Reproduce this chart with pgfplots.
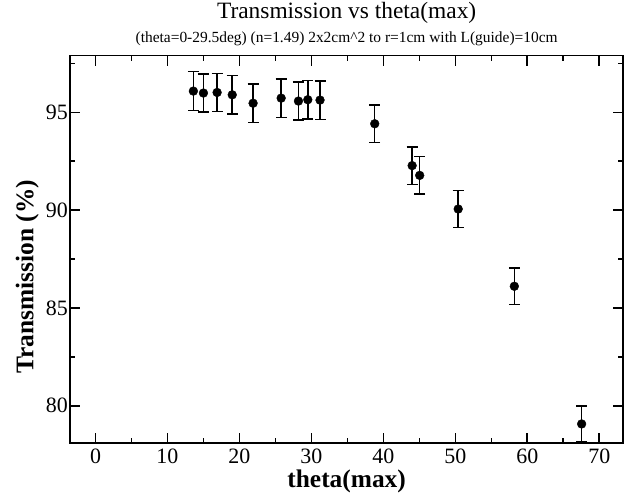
\documentclass[border=0pt]{standalone}
\usepackage{fontspec}
\setmainfont{Liberation Serif}
\usepackage{pgfplots}
\pgfplotsset{compat=1.18}
\begin{document}
\begin{tikzpicture}
\useasboundingbox (0,0) rectangle (627bp,493bp);
\begin{axis}[
  at={(70.3bp,49.7bp)}, anchor=south west,
  scale only axis, width=552.7bp, height=387.6bp,
  xmin=-3.5, xmax=73.3, ymin=78.08, ymax=97.9,
  xtick={0,10,...,70}, minor xtick={5,15,...,65},
  ytick={80,85,90,95}, minor ytick={80,82.5,...,97.5},
  tick align=inside, major tick length=10bp, minor tick length=5bp,
  axis line style={line width=1.6bp},
  every tick/.style={line width=1.6bp, black},
  ticklabel style={font=\fontsize{22}{22}\selectfont},
  /pgf/number format/assume math mode=true,
  xticklabel style={yshift=-2bp},
  yticklabel style={xshift=1bp},
  xlabel={\textbf{theta(max)}}, ylabel={\textbf{Transmission (\%)}},
  label style={font=\fontsize{25.5}{25.5}\selectfont},
  xlabel style={at={(axis description cs:0.5,0)}, anchor=center, yshift=-38bp},
  ylabel style={at={(axis description cs:-0.078,0.43)}, anchor=center},
  clip=false,
]
\addplot[only marks, mark=*, mark size=4.4bp, black,
  error bars/.cd, y dir=both, y explicit,
  error bar style={line width=1.5bp, black},
  error mark options={rotate=90, mark size=5.5bp, line width=1.5bp, black}]
  table[x=x, y=y, y error=e] {
x     y      e
13.6  96.09  0.99
15.0  95.99  0.98
16.9  96.02  0.98
19.0  95.90  0.98
21.9  95.47  0.98
25.8  95.73  0.98
28.2  95.58  0.98
29.5  95.65  0.98
31.2  95.63  0.98
38.8  94.42  0.97
44.0  92.28  0.96
45.05 91.78  0.96
50.4  90.06  0.95
58.2  86.11  0.93
67.55 79.07  0.91
};
\node[font=\fontsize{23.5}{23.5}\selectfont, anchor=base] at (axis description cs:0.5,1) [yshift=37.2bp] {Transmission vs theta(max)};
\node[font=\fontsize{15.5}{15.5}\selectfont, anchor=base] at (axis description cs:0.5,1) [yshift=12.8bp] {(theta=0-29.5deg) (n=1.49) 2x2cm\^{}2 to r=1cm with L(guide)=10cm};
\end{axis}
\end{tikzpicture}
\end{document}
